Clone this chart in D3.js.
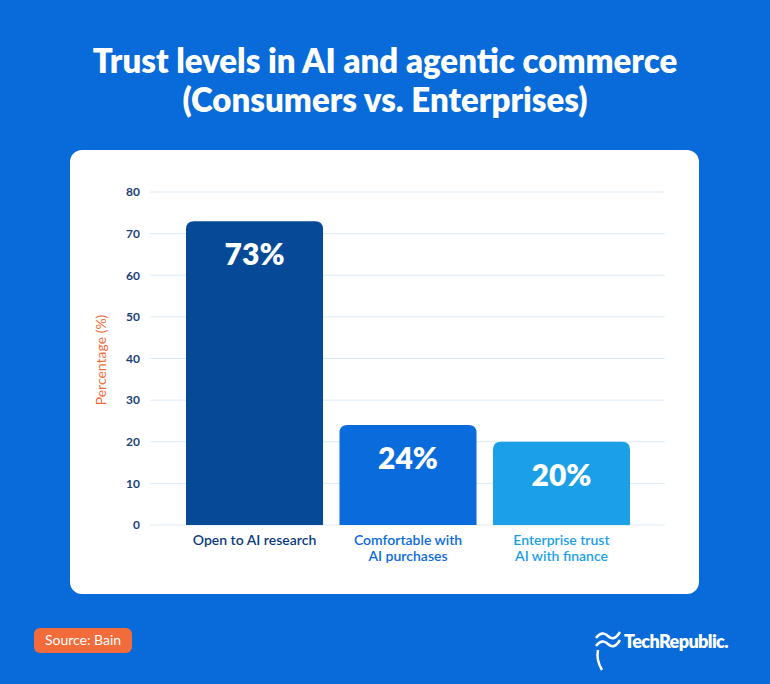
<!DOCTYPE html>
<html><head><meta charset="utf-8">
<script src="https://cdn.jsdelivr.net/npm/d3@7"></script>
<style>body{margin:0;background:#086bd9;}svg{display:block;font-family:Lato,"Open Sans",sans-serif;}</style>
</head><body>
<svg id="c" width="770" height="684"></svg>
<script>
const categories = [["Open to AI research"],["Comfortable with","AI purchases"],["Enterprise trust","AI with finance"]];
const values = [73, 24, 20];
const barColors = ["#064a97", "#0a6bdc", "#1ba0e8"];
const labelColors = ["#0b3b7e", "#0a6bdc", "#1ba0e8"];
const ticks = [0,10,20,30,40,50,60,70,80];

const svg = d3.select("#c");
svg.append("rect").attr("width",770).attr("height",684).attr("fill","#086bd9");
const title = ["Trust levels in AI and agentic commerce","(Consumers vs. Enterprises)"];
svg.selectAll(".t").data(title).enter().append("text")
  .attr("x",385).attr("y",(d,i)=>73+i*39).attr("text-anchor","middle")
  .attr("fill","#fff").attr("font-size",33).attr("font-weight",800).text(d=>d);
svg.append("rect").attr("x",70).attr("y",150).attr("width",629).attr("height",444).attr("rx",12).attr("fill","#fff");

const y = d3.scaleLinear().domain([0,80]).range([525,192]);
const x = d3.scaleBand().domain(d3.range(3)).range([186,630]).paddingInner(0.107).paddingOuter(0);

const grid = svg.append("g");
grid.selectAll("line").data(ticks).enter().append("line")
  .attr("x1",150).attr("x2",665).attr("y1",d=>y(d)).attr("y2",d=>y(d))
  .attr("stroke","#dcebf7").attr("stroke-width",1);
const ax = svg.append("g").attr("transform","translate(140,0)")
  .call(d3.axisLeft(y).tickValues(ticks).tickSize(0).tickPadding(0));
ax.select(".domain").remove();
ax.selectAll("text").attr("fill","#1c3e7a").attr("font-size",12).attr("font-weight",700).attr("font-family","Lato,sans-serif");

svg.append("text").attr("transform","translate(106,360) rotate(-90)").attr("text-anchor","middle")
  .attr("fill","#f26b3a").attr("font-size",14).text("Percentage (%)");

const r = 8;
svg.selectAll(".bar").data(values).enter().append("path")
  .attr("fill",(d,i)=>barColors[i])
  .attr("d",(d,i)=>{const x0=x(i),w=x.bandwidth(),y0=y(d),y1=y(0);
    return `M${x0},${y1}V${y0+r}Q${x0},${y0} ${x0+r},${y0}H${x0+w-r}Q${x0+w},${y0} ${x0+w},${y0+r}V${y1}Z`;});
svg.selectAll(".vl").data(values).enter().append("text")
  .attr("x",(d,i)=>x(i)+x.bandwidth()/2).attr("y",d=>y(d)+44).attr("text-anchor","middle")
  .attr("fill","#fff").attr("font-size",30).attr("font-weight",800).text(d=>d+"%");
categories.forEach((c,i)=>{
  svg.append("text").attr("x",x(i)+x.bandwidth()/2).attr("y",545).attr("text-anchor","middle")
    .attr("fill",labelColors[i]).attr("font-size",14).attr("font-weight",600)
    .selectAll("tspan").data(c).enter().append("tspan")
    .attr("x",x(i)+x.bandwidth()/2).attr("dy",(d,j)=>j?16:0).text(d=>d);
});
svg.append("rect").attr("x",34).attr("y",628).attr("width",98).attr("height",25).attr("rx",6).attr("fill","#f26b3a");
svg.append("text").attr("x",83).attr("y",645).attr("text-anchor","middle").attr("fill","#fff").attr("font-size",14).text("Source: Bain");
const lg = svg.append("g").attr("transform","translate(590,628)");
lg.append("path").attr("d","M6,10 q6,-8 12,-2 q6,6 12,-4 M6,18 q6,-8 12,-2 q6,6 12,-4 M8,22 q-2,10 4,20")
  .attr("stroke","#fff").attr("stroke-width",2.5).attr("fill","none");
lg.append("text").attr("x",34).attr("y",20).attr("fill","#fff").attr("font-size",18).attr("font-weight",800)
  .attr("letter-spacing",-0.6).text("TechRepublic.");
</script></body></html>
